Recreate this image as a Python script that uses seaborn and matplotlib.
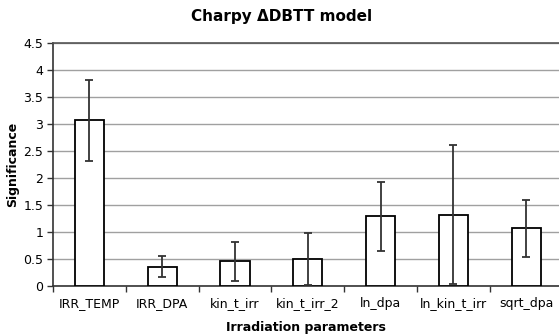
import numpy as np
import pandas as pd
import matplotlib
matplotlib.use("Agg")
import matplotlib.pyplot as plt
import seaborn as sns

params = ["IRR_TEMP", "IRR_DPA", "kin_t_irr", "kin_t_irr_2", "ln_dpa", "ln_kin_t_irr", "sqrt_dpa"]
significance = [3.07, 0.36, 0.46, 0.50, 1.29, 1.32, 1.07]
errors = [0.75, 0.20, 0.36, 0.48, 0.645, 1.29, 0.53]

df = pd.DataFrame({"param": params, "sig": significance, "err": errors})

sns.set_theme(style="white")
plt.rcParams["font.family"] = ["DejaVu Sans"]
plt.rcParams["text.color"] = "black"
plt.rcParams["xtick.color"] = "black"
plt.rcParams["ytick.color"] = "black"
plt.rcParams["axes.labelcolor"] = "black"

fig = plt.figure(figsize=(5.59, 3.36), dpi=100)
ax = fig.add_axes([53 / 559, 50 / 336, 506 / 559, 243 / 336])

sns.barplot(data=df, x="param", y="sig", color="white", edgecolor="black",
            linewidth=1.3, width=0.40, ax=ax, zorder=3)
ax.errorbar(np.arange(len(params)), df["sig"], yerr=df["err"], fmt="none",
            ecolor="#333333", elinewidth=1.3, capsize=3, capthick=1.3, zorder=4)

ax.set_ylim(0, 4.5)
ax.set_xlim(-0.5, 6.45)
ax.set_yticks(np.arange(0, 4.51, 0.5))
ax.set_yticklabels(["0", "0.5", "1", "1.5", "2", "2.5", "3", "3.5", "4", "4.5"], fontsize=9)
ax.yaxis.grid(True, color="#a0a0a0", linewidth=1.0, zorder=0)
ax.set_axisbelow(True)

# category ticks at boundaries, labels centred
ax.set_xticks(np.arange(len(params)))
ax.set_xticklabels(params, fontsize=9)
ax.set_xticks(np.arange(-0.5, 6.5, 1), minor=True)
ax.tick_params(axis="x", which="major", bottom=False, length=0, pad=8)
ax.tick_params(axis="x", which="minor", bottom=True, length=4, width=1, color="#333333", direction="out")
ax.tick_params(axis="y", left=True, length=4, width=1, color="#333333", direction="out", pad=3)

for s in ["left", "bottom"]:
    ax.spines[s].set_color("#333333")
    ax.spines[s].set_linewidth(1.2)
ax.spines["top"].set_color("#555555")
ax.spines["top"].set_linewidth(1.2)
ax.spines["right"].set_visible(False)

ax.set_xlabel("Irradiation parameters", fontsize=9, fontweight="bold", labelpad=8)
ax.set_ylabel("Significance", fontsize=9, fontweight="bold", labelpad=3)
fig.text(282 / 559, 1 - 17 / 336, "Charpy \u0394DBTT model", ha="center", va="center",
         fontsize=11, fontweight="bold")

fig.savefig("out.png", dpi=100, facecolor="white")
